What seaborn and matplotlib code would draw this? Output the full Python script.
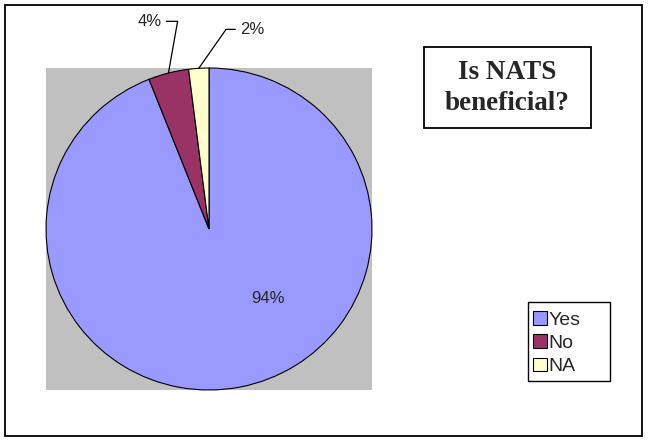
import numpy as np
import seaborn as sns
import matplotlib.pyplot as plt
from matplotlib.patches import Rectangle, Patch

categories = ["Yes", "No", "NA"]
values = [94, 4, 2]
colors = ["#9999FF", "#993366", "#FFFFCC"]
title = "Is NATS\nbeneficial?"

sns.set_style("white")
plt.rcParams['font.family'] = ['Liberation Sans', 'DejaVu Sans']
palette = sns.color_palette(colors)

W, H = 650, 440
fig = plt.figure(figsize=(6.5, 4.4), dpi=100)

# outer chart border
fig.patches.append(Rectangle((5 / W, 4 / H), 637 / W, 431 / H, transform=fig.transFigure,
                             fill=False, edgecolor="black", linewidth=1.3))

ax = fig.add_axes([46 / W, 50 / H, 326 / W, 322 / H])
wedges, _ = ax.pie(values, colors=palette, startangle=90, counterclock=False, radius=1,
                   frame=True, wedgeprops=dict(edgecolor="black", linewidth=0.8))
ax.set_facecolor("#C0C0C0")
ax.set_xlim(-1, 1)
ax.set_ylim(-1, 1)
ax.set_aspect("auto")
ax.set_xticks([])
ax.set_yticks([])
for s in ax.spines.values():
    s.set_visible(False)

total = sum(values)
pct = [f"{round(v / total * 100)}%" for v in values]

ax.text(0.36, -0.43, pct[0], ha="center", va="center", fontsize=12)

# small slices: labels with leader lines
mids = [(w.theta1 + w.theta2) / 2 for w in wedges]
edge = [(np.cos(np.radians(m)), np.sin(np.radians(m))) for m in mids]
ax.annotate(pct[1], xy=edge[1], xytext=(-0.29, 1.29), ha="right", va="center", fontsize=12,
            annotation_clip=False,
            arrowprops=dict(arrowstyle="-", color="black", lw=0.9, shrinkA=1, shrinkB=0,
                            connectionstyle="angle,angleA=0,angleB=80,rad=0"))
ax.annotate(pct[2], xy=edge[2], xytext=(0.19, 1.24), ha="left", va="center", fontsize=12,
            annotation_clip=False,
            arrowprops=dict(arrowstyle="-", color="black", lw=0.9, shrinkA=1, shrinkB=0,
                            connectionstyle="angle,angleA=0,angleB=55,rad=0"))

# title box
fig.patches.append(Rectangle((424 / W, 1 - 128 / H), 167 / W, 81 / H, transform=fig.transFigure,
                             fill=False, edgecolor="black", linewidth=1.3))
fig.text(507.5 / W, 1 - 88 / H, title, ha="center", va="center", fontsize=19.5,
         fontweight="bold", family=["Liberation Serif", "DejaVu Serif"], linespacing=1.3)

# legend with a wider box drawn by hand
fig.patches.append(Rectangle((528 / W, 1 - 381 / H), 82 / W, 79 / H, transform=fig.transFigure,
                             fill=False, edgecolor="black", linewidth=1.0))
handles = [Patch(facecolor=palette[i], edgecolor="black", linewidth=0.8) for i in range(3)]
leg = fig.legend(handles, categories, loc="upper left", bbox_to_anchor=(531 / W, 1 - 309 / H),
                 frameon=False, fontsize=14,
                 handlelength=0.7, handleheight=0.7, handletextpad=0.1, labelspacing=0.3,
                 borderpad=0.1, borderaxespad=0)

fig.savefig("out.png", dpi=100, facecolor="white")
